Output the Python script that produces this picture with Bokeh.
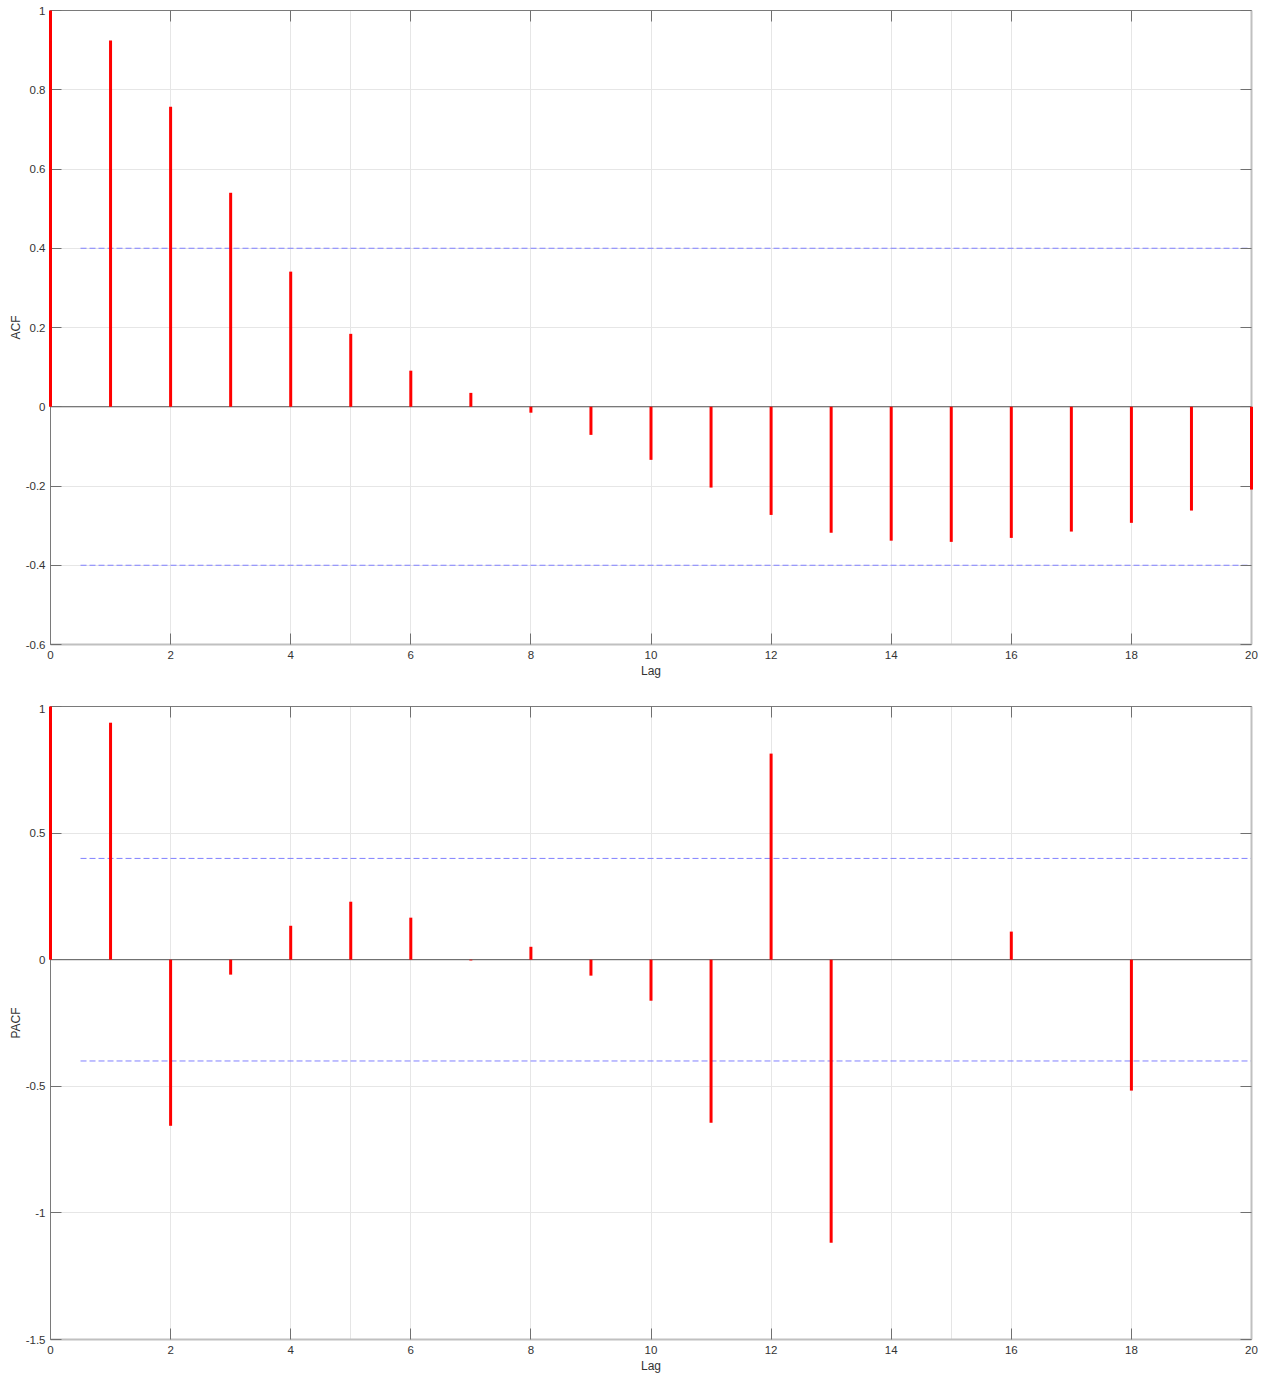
from bokeh.plotting import figure
from bokeh.layouts import column
from bokeh.models import Range1d, LinearAxis, FixedTicker, CustomJSTickFormatter, Grid
from bokeh.embed import file_html
from bokeh.resources import INLINE

# ---------------- data ----------------
lags = list(range(0, 21))
acf_values = [1.0, 0.924, 0.757, 0.540, 0.341, 0.184, 0.091, 0.035, -0.015, -0.071,
              -0.134, -0.204, -0.273, -0.318, -0.338, -0.341, -0.331, -0.315, -0.293,
              -0.262, -0.209]
pacf_values = [1.0, 0.936, -0.656, -0.059, 0.134, 0.229, 0.166, -0.003, 0.051, -0.063,
               -0.162, -0.644, 0.814, -1.118, 0.0, 0.0, 0.111, 0.0, -0.517, 0.0, 0.0]
conf_upper = 0.4
conf_lower = -0.4
band_x = [0.5, 20]
x_ticks = list(range(0, 21, 2))
acf_y_ticks = [-0.6, -0.4, -0.2, 0, 0.2, 0.4, 0.6, 0.8, 1]
pacf_y_ticks = [-1.5, -1, -0.5, 0, 0.5, 1]

FONT = "Liberation Sans"
TXT = "#333333"
fmt_code = "return String(Math.round(tick*10)/10);"
blank_code = "return '';"


def make_panel(vals, ylab, yr, yticks, height, border_top, border_bottom):
    p = figure(width=1258, height=height, output_backend="svg", toolbar_location=None,
               x_range=Range1d(0, 20), y_range=Range1d(*yr),
               x_axis_location=None, y_axis_location=None,
               min_border_left=50, min_border_right=7, min_border_top=border_top,
               min_border_bottom=border_bottom)
    p.outline_line_color = None
    p.background_fill_color = "white"

    for side in ["below", "left", "above", "right"]:
        ax = LinearAxis()
        if side in ("below", "above"):
            ax.ticker = FixedTicker(ticks=x_ticks)
        else:
            ax.ticker = FixedTicker(ticks=yticks)
        ax.major_tick_in = 11
        ax.major_tick_out = 0
        ax.minor_tick_in = 0
        ax.minor_tick_out = 0
        ax.major_tick_line_color = "#707070"
        ax.major_label_text_font = FONT
        ax.major_label_text_font_size = "11.5px"
        ax.major_label_text_color = TXT
        ax.axis_label_text_font = FONT
        ax.axis_label_text_font_size = "12px"
        ax.axis_label_text_font_style = "normal"
        ax.axis_label_text_color = TXT
        if side in ("below", "right"):
            ax.axis_line_color = "#c0c0c0"
            ax.axis_line_width = 2
        else:
            ax.axis_line_color = "#7a7a7a"
            ax.axis_line_width = 1
        if side in ("above", "right"):
            ax.formatter = CustomJSTickFormatter(code=blank_code)
            ax.major_label_standoff = 0
        else:
            ax.formatter = CustomJSTickFormatter(code=fmt_code)
        if side == "below":
            ax.major_label_standoff = 6
            ax.axis_label = "Lag"
            ax.axis_label_standoff = 2
        if side == "left":
            ax.major_label_standoff = 5
            ax.axis_label = ylab
            ax.axis_label_standoff = 0
        p.add_layout(ax, side)

    gx = Grid(dimension=0, ticker=FixedTicker(ticks=x_ticks), grid_line_color="#e6e6e6")
    gy = Grid(dimension=1, ticker=FixedTicker(ticks=yticks), grid_line_color="#e6e6e6")
    p.add_layout(gx)
    p.add_layout(gy)

    # zero line
    p.line(x=[lags[0], lags[-1]], y=[0, 0], line_color="#555555", line_width=1)
    # confidence bounds
    p.line(x=band_x, y=[conf_upper, conf_upper], line_color="#8080ff", line_width=1,
           line_dash="6 3")
    p.line(x=band_x, y=[conf_lower, conf_lower], line_color="#8080ff", line_width=1,
           line_dash="6 3")
    # stems
    p.segment(x0=lags, y0=[0] * len(lags), x1=lags, y1=vals,
              line_color="#ff0000", line_width=3, level="overlay")
    return p


p1 = make_panel(acf_values, "ACF", (-0.6, 1), acf_y_ticks, 704, 10, 60)
p2 = make_panel(pacf_values, "PACF", (-1.5, 1), pacf_y_ticks, 671, 2, 36)

layout = column(p1, p2, spacing=0)
open("out.html", "w").write(file_html(layout, INLINE))
